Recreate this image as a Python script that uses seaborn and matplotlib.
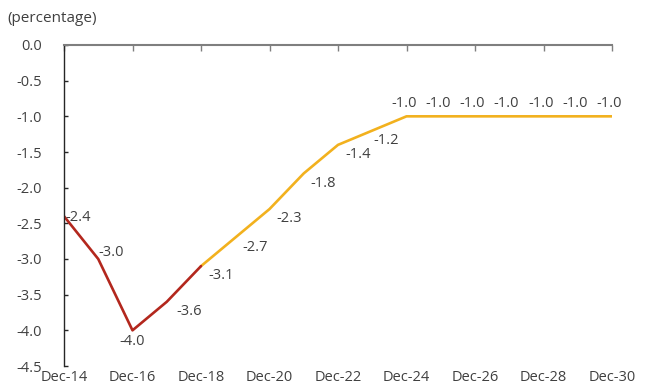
import matplotlib
matplotlib.use("Agg")
import matplotlib.pyplot as plt
import seaborn as sns
import pandas as pd

# Fiscal balance path, actual and projected
years = ["Dec-14", "Dec-15", "Dec-16", "Dec-17", "Dec-18", "Dec-19", "Dec-20", "Dec-21",
         "Dec-22", "Dec-23", "Dec-24", "Dec-25", "Dec-26", "Dec-27", "Dec-28", "Dec-29", "Dec-30"]
actual = [-2.4, -3.0, -4.0, -3.6, -3.1]
projected = [-3.1, -2.7, -2.3, -1.8, -1.4, -1.2, -1.0, -1.0, -1.0, -1.0, -1.0, -1.0, -1.0]
y_ticks = [0.0, -0.5, -1.0, -1.5, -2.0, -2.5, -3.0, -3.5, -4.0, -4.5]
unit_label = "(percentage)"

RED = "#B3271D"
GOLD = "#F2B11E"
TEXT = "#404040"
FS = 10.5

sns.set_theme(style="white")
plt.rcParams["font.family"] = ["Open Sans", "DejaVu Sans"]

n_act = len(actual)
df = pd.DataFrame({
    "x": list(range(n_act)) + list(range(n_act - 1, n_act - 1 + len(projected))),
    "value": actual + projected,
    "series": ["actual"] * n_act + ["projected"] * len(projected),
})

fig = plt.figure(figsize=(6.48, 3.91), dpi=100)
ax = fig.add_axes([64 / 648, 1 - 366 / 391, (612 - 64) / 648, (366 - 45) / 391])

sns.lineplot(data=df, x="x", y="value", hue="series", hue_order=["projected", "actual"],
             palette={"actual": RED, "projected": GOLD}, linewidth=1.9,
             legend=False, ax=ax, sort=False)

ax.set_xlim(0, len(years) - 1)
ax.set_ylim(-4.5, 0.0)
ax.set_xticks(range(0, len(years), 2))
ax.set_xticklabels(years[::2])
ax.set_yticks(y_ticks)
ax.set_yticklabels([f"{v:.1f}" for v in y_ticks])
ax.set_xlabel("")
ax.set_ylabel("")

for side in ["right", "bottom"]:
    ax.spines[side].set_visible(False)
ax.spines["left"].set_color("#262626")
ax.spines["top"].set_color("#7f7f7f")
ax.spines["left"].set_linewidth(1.0)
ax.spines["top"].set_linewidth(1.5)

ax.tick_params(axis="x", top=True, bottom=False, labeltop=False, labelbottom=True,
               direction="in", length=4, width=1, color="#7f7f7f",
               labelsize=FS, labelcolor=TEXT, pad=3)
ax.tick_params(axis="y", left=True, direction="in", length=3, width=1, color="#262626",
               labelsize=FS, labelcolor=TEXT, pad=16)
for lab in ax.get_yticklabels():
    lab.set_horizontalalignment("right")

# data labels (offsets in points)
act_off = [(1, -1, "left", "center"), (0, 5, "left", "center"), (0, -8, "center", "center"),
           (7, -7, "left", "center")]
for i, v in enumerate(actual[:-1]):
    dx, dy, ha, va = act_off[i]
    ax.annotate(f"{v:.1f}", (i, v), xytext=(dx, dy), textcoords="offset points",
                ha=ha, va=va, fontsize=FS, color=TEXT)
proj_off = [(5, -7, "left", "center")] * 5 + [(10, -7, "center", "center")] + [(-2, 9, "center", "center")] * 7
for j, v in enumerate(projected):
    dx, dy, ha, va = proj_off[j]
    ax.annotate(f"{v:.1f}", (n_act - 1 + j, v), xytext=(dx, dy), textcoords="offset points",
                ha=ha, va=va, fontsize=FS, color=TEXT)

fig.text(7 / 648, 1 - 18 / 391, unit_label, fontsize=11, color=TEXT, ha="left", va="center")

fig.savefig("out.png", dpi=100)
